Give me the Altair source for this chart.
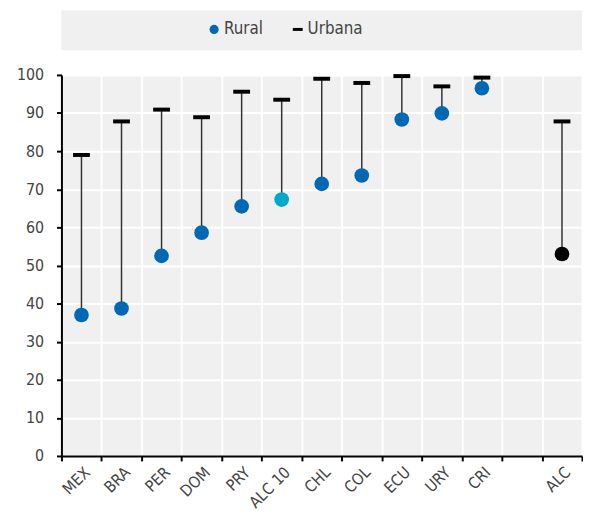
import altair as alt
import pandas as pd

countries = ["MEX", "BRA", "PER", "DOM", "PRY", "ALC 10", "CHL", "COL", "ECU", "URY", "CRI", "ALC"]
rural = [37.0, 38.7, 52.5, 58.6, 65.5, 67.3, 71.4, 73.6, 88.3, 89.9, 96.5, 53.0]
urbana = [79.0, 87.8, 90.9, 88.9, 95.6, 93.5, 99.0, 97.9, 99.7, 97.0, 99.3, 87.8]
groups = ["país"] * 5 + ["promedio"] + ["país"] * 5 + ["región"]
axis_order = countries[:11] + [" "] + ["ALC"]
y_ticks = [0, 10, 20, 30, 40, 50, 60, 70, 80, 90, 100]
legend_labels = ["Rural", "Urbana"]

FONT = "'DejaVu Sans Condensed', 'Liberation Sans Narrow', Roboto, sans-serif"
TXT = "#444444"

df = pd.DataFrame({"pais": countries, "rural": rural, "urbana": urbana, "grp": groups})

x_enc = alt.X(
    "pais:N",
    sort=axis_order,
    scale=alt.Scale(domain=axis_order, paddingInner=0, paddingOuter=0),
    axis=alt.Axis(
        title=None, labelAngle=-45, tickBand="extent", grid=True, gridColor="white",
        gridWidth=2, domainColor="black", domainWidth=2, tickColor="black",
        tickWidth=2, tickSize=5, labelFontSize=16, labelColor=TXT, labelFont=FONT,
        labelPadding=3,
    ),
)
y_scale = alt.Scale(domain=[0, 100], nice=False)
y_axis = alt.Axis(
    title=None, values=y_ticks, grid=True, gridColor="white", gridWidth=2,
    domainColor="black", domainWidth=2, tickColor="black", tickWidth=2, tickSize=5,
    labelFontSize=16, labelColor=TXT, labelFont=FONT, labelPadding=13, labelOverlap=False,
)

base = alt.Chart(df).encode(x=x_enc)
rule = base.mark_rule(color="#333333", strokeWidth=1.5).encode(
    y=alt.Y("rural:Q", scale=y_scale, axis=y_axis), y2="urbana:Q"
)
tick = base.mark_tick(color="black", thickness=4, size=17, orient="horizontal", opacity=1).encode(
    y=alt.Y("urbana:Q", scale=y_scale, axis=y_axis)
)
dots = base.mark_circle(size=220, opacity=1).encode(
    y=alt.Y("rural:Q", scale=y_scale, axis=y_axis),
    color=alt.Color(
        "grp:N",
        scale=alt.Scale(domain=["país", "promedio", "región"], range=["#0068b5", "#00a8cc", "#000000"]),
        legend=None,
    ),
)
main = alt.layer(rule, tick, dots).properties(width=526, height=385)

leg_df = pd.DataFrame({"label": legend_labels})
lx = alt.X("label:N", scale=alt.Scale(domain=legend_labels, range=[112, 281], padding=0), axis=None)
leg_base = alt.Chart(leg_df).encode(x=lx)
leg_dot = leg_base.transform_filter(alt.datum.label == "Rural").mark_circle(
    size=85, color="#0068b5", opacity=1
).encode(y=alt.value(19))
leg_tick = leg_base.transform_filter(alt.datum.label == "Urbana").mark_tick(
    color="black", thickness=3, size=10, orient="horizontal", opacity=1
).encode(y=alt.value(19))
leg_text = leg_base.mark_text(align="left", baseline="middle", dx=10, fontSize=17, font=FONT, color=TXT).encode(
    text="label:N", y=alt.value(19)
)
legend = alt.layer(leg_dot, leg_tick, leg_text).properties(width=526, height=40)

chart = alt.vconcat(legend, main, spacing=17).properties(
    padding={"left": 8, "top": 0, "right": 0, "bottom": 0}
).configure_view(fill="#f0f0f0", strokeWidth=0)

chart.save("out.html", embed_options={"renderer": "svg", "actions": False})
